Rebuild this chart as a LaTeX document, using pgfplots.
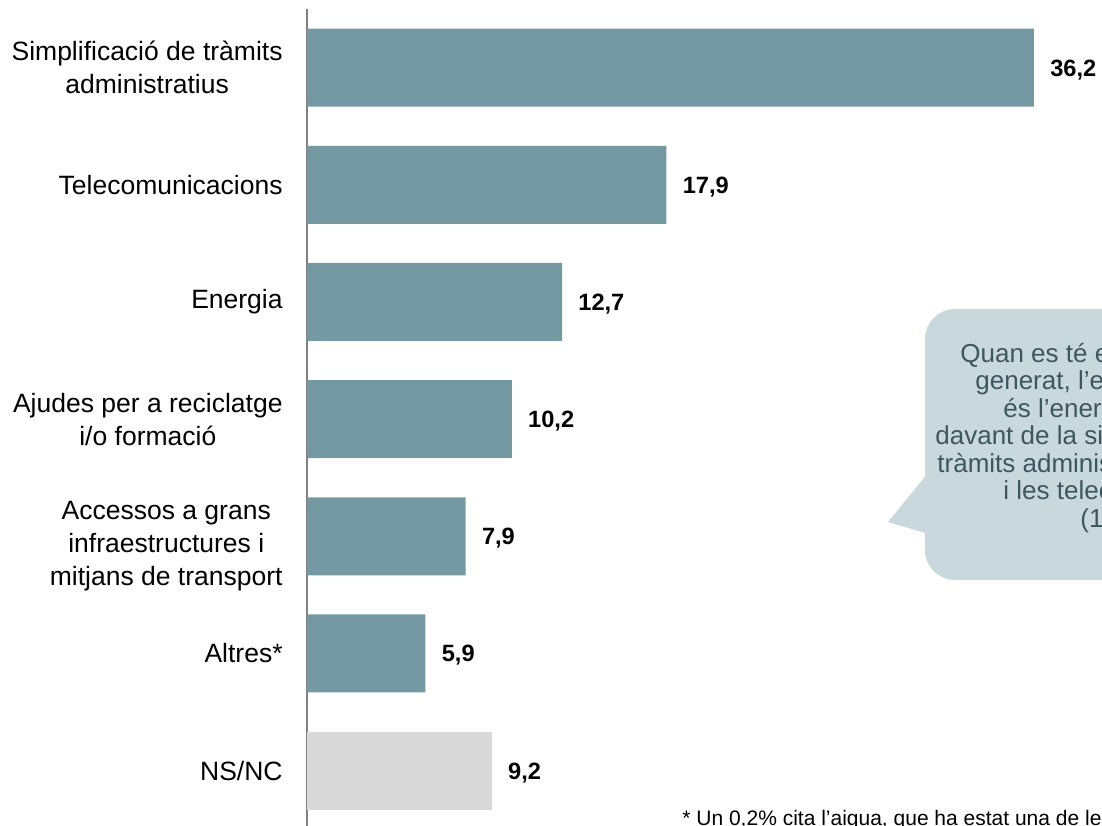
\documentclass[border=0pt]{standalone}
\usepackage{fontspec}
\setmainfont{Liberation Sans}
\usepackage{pgfplots}
\pgfplotsset{compat=1.18}
\definecolor{barblue}{RGB}{117,153,163}
\definecolor{bargray}{RGB}{217,217,217}
\definecolor{calloutfill}{RGB}{201,216,221}
\definecolor{callouttext}{RGB}{62,86,94}
\definecolor{axisgray}{RGB}{128,128,128}

\begin{document}
\begin{tikzpicture}
% 1 px of the reference = 0.5pt, origin at the top left corner
\path[use as bounding box] (0,0) rectangle (551pt,-412.5pt);
\clip (0,0) rectangle (551pt,-412.5pt);
\begin{axis}[
  at={(153.5pt,-4.5pt)}, anchor=north west,
  x=10.04pt, y=58.585pt, y dir=reverse,
  xmin=0, xmax=40, ymin=-0.5, ymax=6.6,
  axis x line=none, axis y line*=left,
  y axis line style={draw=axisgray, line width=1pt},
  xbar, bar width=39pt, bar shift=0pt,
  ytick={0,...,6},
  yticklabels={{Simplificació de tràmits\\administratius},Telecomunicacions,Energia,{Ajudes per a reciclatge\\i/o formació},{\raisebox{-5pt}[\height][\depth]{\begin{tabular}{@{}c@{}}Accessos a grans\\infraestructures i\\mitjans de transport\end{tabular}}},Altres*,NS/NC},
  major tick length=0pt,
  yticklabel style={align=center, anchor=east, inner sep=0pt, xshift=-12pt,
    font=\fontsize{13.25}{16.5}\selectfont},
  clip=false,
  point meta=x,
  nodes near coords={\pgfmathprintnumber[fixed,fixed zerofill,precision=1,use comma,assume math mode=true]{\pgfplotspointmeta}},
  nodes near coords style={anchor=west, inner sep=0pt, xshift=8pt, yshift=-1pt,
    font=\fontsize{11.8}{14}\selectfont\bfseries},
]
\addplot[fill=barblue, draw=none] coordinates {(36.2,0) (17.9,1) (12.7,2) (10.2,3) (7.9,4) (5.9,5)};
\addplot[fill=bargray, draw=none] coordinates {(9.2,6)};
\end{axis}

% callout
\fill[calloutfill, rounded corners=15pt] (462.5pt,-154.5pt) rectangle (650pt,-290pt);
\fill[calloutfill] (466pt,-234pt) -- (444pt,-261pt) -- (466pt,-267.5pt) -- cycle;
\begin{scope}[every node/.style={anchor=base west, inner sep=0pt, text=callouttext,
    font=\fontsize{13}{15}\selectfont}]
\node at (480pt,-181pt) {Quan es té en compte el valor afegit};
\node at (487.5pt,-194.75pt) {generat, l’element més valorat};
\node at (501.5pt,-208.5pt) {és l’energia (27,6\%),};
\node at (467.5pt,-222.25pt) {davant de la simplificació de};
\node at (468.5pt,-236pt) {tràmits administratius (22,1\%)};
\node at (501.5pt,-249.75pt) {i les telecomunicacions};
\node at (540pt,-263.5pt) {(15,3\%)};
\end{scope}

% footnote
\node[anchor=base west, inner sep=0pt, font=\fontsize{10.5}{12}\selectfont]
  at (341pt,-412.5pt) {* Un 0,2\% cita l’aigua, que ha estat una de les opcions més citades};
\end{tikzpicture}
\end{document}
